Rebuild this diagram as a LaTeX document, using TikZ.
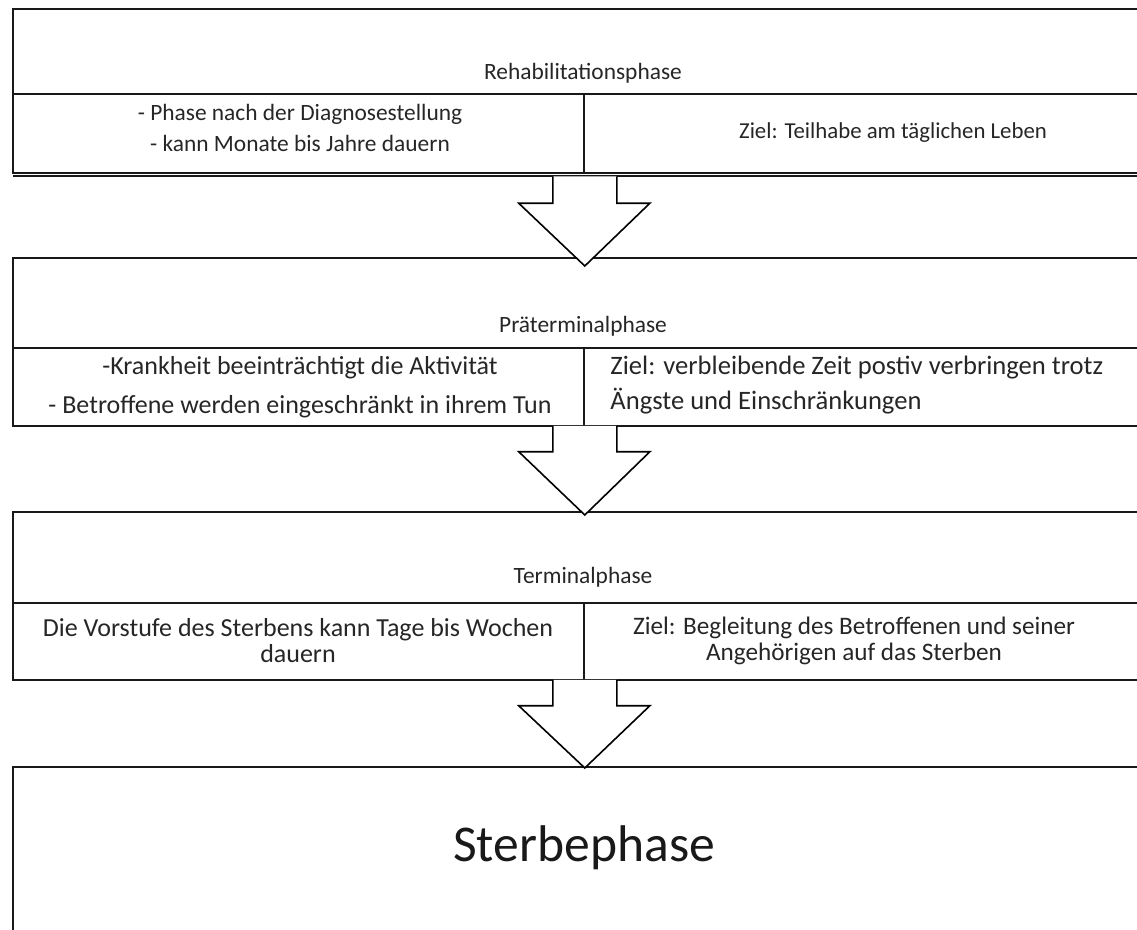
\documentclass[tikz,border=0pt]{standalone}
\usepackage{fontspec}
\setmainfont{Carlito}
\usetikzlibrary{calc}
\begin{document}
\begin{tikzpicture}[x=0.5pt,y=-0.5pt,
  cellbox/.style={draw=none, inner sep=0pt, anchor=north west},
  border/.style={draw=black!90, line width=1.2pt},
  txt/.style={text=black!85, inner sep=0pt, font=\fontsize{11.7pt}{14pt}\selectfont},
  bigtxt/.style={text=black!90, inner sep=0pt, font=\fontsize{25.8pt}{30pt}\selectfont},
  blockarrow/.style={draw=black, line width=0.8pt, line join=miter},
]
\useasboundingbox (0,0) rectangle (1137,930);
% cells of box 1
\node[cellbox, minimum width=562pt, minimum height=42.5pt] (t1) at (13,9) {};
\node[cellbox, minimum width=285pt, minimum height=39pt] (l1) at (13,94) {};
\node[cellbox, minimum width=277pt, minimum height=39pt] (r1) at (583,94) {};
% cells of box 2
\node[cellbox, minimum width=562pt, minimum height=45pt] (t2) at (13,258) {};
\node[cellbox, minimum width=285pt, minimum height=38.5pt] (l2) at (13,348) {};
\node[cellbox, minimum width=277pt, minimum height=38.5pt] (r2) at (583,348) {};
% cells of box 3
\node[cellbox, minimum width=562pt, minimum height=45.5pt] (t3) at (13,512) {};
\node[cellbox, minimum width=285pt, minimum height=38pt] (l3) at (13,603) {};
\node[cellbox, minimum width=277pt, minimum height=38pt] (r3) at (583,603) {};
% box 4
\node[cellbox, minimum width=562pt, minimum height=81.5pt] (t4) at (13,767) {};

% borders (open at the right, where the picture is cut off)
\foreach \b/\l/\r in {1/l1/r1, 2/l2/r2, 3/l3/r3}{
  \draw[border] (t\b.north east) -- (t\b.north west) -- (\l.south west) -- (\r.south east);
  \draw[border] (\l.north west) -- (\r.north east);
  \draw[border] (\l.north east) -- (\l.south east);
}
\draw[border] ($(l1.south west)+(0,3.5)$) coordinate (d1) -- ($(r1.south east)+(0,3.5)$) coordinate (d2);
\draw[border] (t4.north east) -- (t4.north west) -- (t4.south west);

% texts
\node[txt] (tx1) at (583,73) {Rehabilitationsphase};
\node[txt, align=center, font=\fontsize{11.7pt}{15.5pt}\selectfont] (tl1) at (300,127.5) {- Phase nach der Diagnosestellung\\- kann Monate bis Jahre dauern};
\node[txt, font=\fontsize{11.4pt}{14pt}\selectfont] (tr1) at (893,133) {Ziel: Teilhabe am täglichen Leben};

\node[txt] (tx2) at (583,326) {Präterminalphase};
\node[txt, align=center, font=\fontsize{13pt}{19.5pt}\selectfont] (tl2) at (300,387.5) {-Krankheit beeinträchtigt die Aktivität\\- Betroffene werden eingeschränkt in ihrem Tun};
\node[txt, align=left, anchor=west, font=\fontsize{13.3pt}{17.5pt}\selectfont] (tr2) at (610,385.5) {Ziel: verbleibende Zeit postiv verbringen trotz\\Ängste und Einschränkungen};

\node[txt] (tx3) at (583,577) {Terminalphase};
\node[txt, align=center, font=\fontsize{13pt}{13pt}\selectfont] (tl3) at (298,641) {Die Vorstufe des Sterbens kann Tage bis Wochen\\dauern};
\node[txt, align=center, font=\fontsize{12.6pt}{13pt}\selectfont] (tr3) at (854,641) {Ziel: Begleitung des Betroffenen und seiner\\Angehörigen auf das Sterben};

\node[bigtxt] (tx4) at (584,848) {Sterbephase};

% block arrows
\newcommand\myblockarrow[3]{%
  \fill[white] ($(#1)+(-32,0)$) -- ($(#1)+(-32,#2)$) -- ($(#1)+(-66,#2)$) -- (#3) -- ($(#1)+(65,#2)$) -- ($(#1)+(32,#2)$) -- ($(#1)+(32,0)$) -- cycle;
  \draw[blockarrow] ($(#1)+(-32,0)$) -- ($(#1)+(-32,#2)$) -- ($(#1)+(-66,#2)$) -- (#3) -- ($(#1)+(65,#2)$) -- ($(#1)+(32,#2)$) -- ($(#1)+(32,0)$);}
\coordinate (a1s) at ($(l1.south east)+(1,3.5)$);
\coordinate (a1t) at ($(t2.north west)!(a1s)!(t2.north east)+(0,8)$);
\myblockarrow{a1s}{27}{a1t}
\coordinate (a2s) at ($(l2.south east)+(1,0)$);
\coordinate (a2t) at ($(t3.north west)!(a2s)!(t3.north east)+(0,3)$);
\myblockarrow{a2s}{26}{a2t}
\coordinate (a3s) at ($(l3.south east)+(1,0)$);
\coordinate (a3t) at ($(t4.north west)!(a3s)!(t4.north east)+(0,1)$);
\myblockarrow{a3s}{26}{a3t}
\end{tikzpicture}
\end{document}
